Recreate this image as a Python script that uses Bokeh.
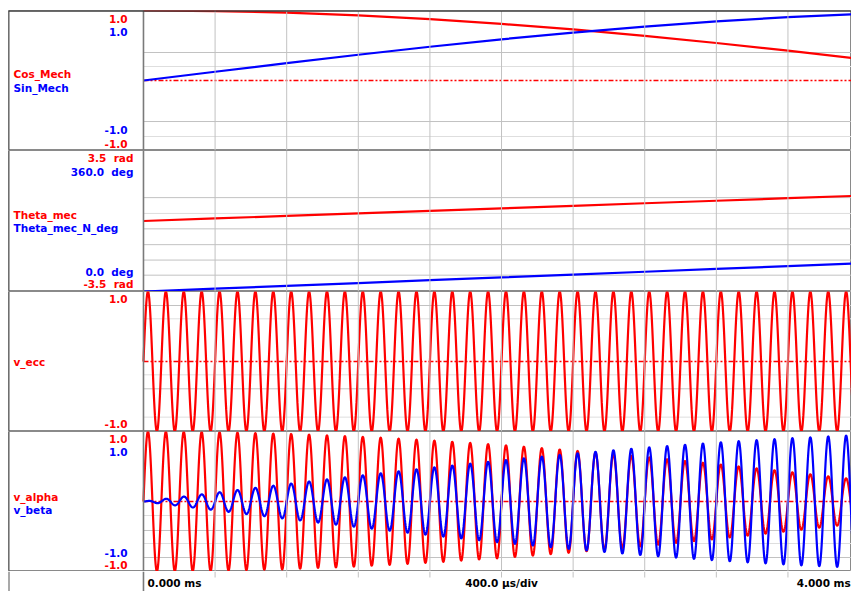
import numpy as np
from bokeh.plotting import figure
from bokeh.layouts import column
from bokeh.models import Range1d, Span, Label
from bokeh.embed import file_html
from bokeh.resources import INLINE
from bokeh.core.properties import value

# ---------------- data ----------------
# time divisions (ms), 400 us/div
t_div_ms = [0.0, 0.4, 0.8, 1.2, 1.6, 2.0, 2.4, 2.8, 3.2, 3.6, 4.0]
# mechanical position traces at every division
cos_mech = [1.0, 0.992, 0.969, 0.930, 0.876, 0.809, 0.729, 0.637, 0.536, 0.426, 0.309]
sin_mech = [0.0, 0.125, 0.249, 0.368, 0.482, 0.588, 0.685, 0.771, 0.844, 0.905, 0.951]
theta_mec_rad = [0.0, 0.126, 0.251, 0.377, 0.503, 0.628, 0.754, 0.880, 1.005, 1.131, 1.257]
theta_mec_n_deg = [0.0, 7.2, 14.4, 21.6, 28.8, 36.0, 43.2, 50.4, 57.6, 64.8, 72.0]
# excitation: 4 cycles per division, amplitude 1.0
v_ecc_period_ms = 0.1
v_ecc_amplitude = 1.0

# tick / scale labels
time_labels = ["0.000 ms", "400.0 \u00b5s/div", "4.000 ms"]

# ---------------- derived waveforms ----------------
t = np.arange(0.0, 4.0 + 1e-9, 0.002)
v_ecc = v_ecc_amplitude * np.sin(2 * np.pi * t / v_ecc_period_ms)
v_alpha = np.interp(t, t_div_ms, cos_mech) * v_ecc
v_beta = np.interp(t, t_div_ms, sin_mech) * v_ecc

# ---------------- styling ----------------
RED = "#ff0000"
BLUE = "#0000ff"
FONT = "DejaVu Sans"
FS = "10.5px"
LW = 2.2
X_LEFT, X_RIGHT = -0.754, 3.955
GRID = "#c2c2c2"
GRID_L = "#dedede"
FRAME = "#8a8a8a"
DASHDOT = "5 2 2 2 2 2"

X_NUM = -0.089   # right edge of numeric scale labels
X_UNIT = -0.056  # right edge of labels with units
X_NAME = -0.726  # left edge of trace names


def make_fig(height, yr, top=0):
    p = figure(width=851, height=height + top, x_range=Range1d(X_LEFT, X_RIGHT),
               y_range=yr, output_backend="svg", toolbar_location=None,
               min_border_left=8, min_border_right=0, min_border_top=top,
               min_border_bottom=0, x_axis_location=None, y_axis_location=None)
    p.xgrid.visible = False
    p.ygrid.visible = False
    p.outline_line_color = FRAME
    p.outline_line_width = 1
    p.background_fill_color = "white"
    p.border_fill_color = "white"
    return p


def add_vgrid(p):
    for tx in t_div_ms[1:]:
        p.add_layout(Span(location=tx, dimension="height", line_color=GRID, line_width=1))
    p.add_layout(Span(location=0.0, dimension="height", line_color="#7a7a7a", line_width=1.6))
    p.add_layout(Span(location=X_LEFT, dimension="height", line_color="#555555", line_width=2))


def add_hgrid(p, ys, colors):
    p.segment(x0=[0.0] * len(ys), x1=[4.0] * len(ys), y0=ys, y1=ys,
              line_color=colors, line_width=1)


def add_zero(p):
    p.segment(x0=[0.0], x1=[4.0], y0=[0.0], y1=[0.0], line_color=RED,
              line_width=1.6, line_dash=DASHDOT)


def add_texts(p, texts, xs, ys, colors, align):
    p.text(x=xs, y=ys, text=texts, text_color=colors, text_align=align,
           text_baseline="middle", text_font=value(FONT), text_font_style="bold",
           text_font_size=FS)


# ---- panel 1: Cos_Mech / Sin_Mech ----
p1 = make_fig(140, Range1d(-1, 1), top=10)
add_vgrid(p1)
add_hgrid(p1, [0.4, 0.2, -0.586, -0.8], [GRID, GRID_L, GRID, GRID_L])
add_zero(p1)
p1.line(t_div_ms, cos_mech, line_color=RED, line_width=LW)
p1.line(t_div_ms, sin_mech, line_color=BLUE, line_width=LW)
p1.add_layout(Span(location=1.0, dimension="width", line_color="#3a3a3a", line_width=2.5))
add_texts(p1, ["1.0", "1.0", "-1.0", "-1.0"], [X_NUM] * 4,
          [0.883, 0.693, -0.714, -0.911], [RED, BLUE, BLUE, RED], "right")
add_texts(p1, ["Cos_Mech", "Sin_Mech"], [X_NAME] * 2, [0.086, -0.11], [RED, BLUE], "left")

# ---- panel 2: Theta_mec (rad) / Theta_mec_N_deg (deg) ----
p2 = make_fig(141, Range1d(-3.5, 3.5))
p2.extra_y_ranges = {"deg": Range1d(0, 360)}
add_vgrid(p2)
add_hgrid(p2, [1.16, 0.375, -0.39, -1.175, -1.94, -2.69],
          [GRID, GRID_L, GRID, GRID, GRID, GRID])
p2.line(t_div_ms, theta_mec_rad, line_color=RED, line_width=LW)
p2.line(t_div_ms, theta_mec_n_deg, line_color=BLUE, line_width=LW, y_range_name="deg")
add_texts(p2, ["3.5 \u00a0rad", "360.0 \u00a0deg", "0.0 \u00a0deg", "-3.5 \u00a0rad"],
          [X_UNIT] * 4, [3.11, 2.44, -2.52, -3.14], [RED, BLUE, BLUE, RED], "right")
add_texts(p2, ["Theta_mec", "Theta_mec_N_deg"], [X_NAME] * 2, [0.31, -0.36], [RED, BLUE], "left")

# ---- panel 3: v_ecc ----
p3 = make_fig(140, Range1d(-1, 1))
add_vgrid(p3)
add_hgrid(p3, [0.8, 0.61, -0.19, -0.39, -0.795], [GRID, GRID_L, GRID_L, GRID, GRID_L])
add_zero(p3)
p3.line(t, v_ecc, line_color=RED, line_width=LW)
add_texts(p3, ["1.0", "-1.0"], [X_NUM] * 2, [0.896, -0.89], [RED, RED], "right")
add_texts(p3, ["v_ecc"], [X_NAME], [-0.01], [RED], "left")

# ---- panel 4: v_alpha / v_beta ----
p4 = make_fig(140, Range1d(-1, 1))
add_vgrid(p4)
add_hgrid(p4, [-0.2, -0.414, -0.6, -0.8], [GRID_L, GRID, GRID_L, GRID])
add_zero(p4)
p4.line(t, v_alpha, line_color=RED, line_width=LW)
p4.line(t, v_beta, line_color=BLUE, line_width=LW)
add_texts(p4, ["1.0", "1.0", "-1.0", "-1.0"], [X_NUM] * 4,
          [0.886, 0.704, -0.739, -0.914], [RED, BLUE, BLUE, RED], "right")
add_texts(p4, ["v_alpha", "v_beta"], [X_NAME] * 2, [0.071, -0.119], [RED, BLUE], "left")

# ---- bottom time strip ----
p5 = make_fig(20, Range1d(0, 1))
p5.outline_line_color = None
p5.add_layout(Span(location=0.0, dimension="height", line_color="#7a7a7a", line_width=1.6))
p5.add_layout(Span(location=X_LEFT, dimension="height", line_color="#555555", line_width=2))
p5.segment(x0=t_div_ms[1:], x1=t_div_ms[1:], y0=[1.0] * 10, y1=[0.7] * 10,
           line_color=GRID, line_width=1)
add_texts(p5, [time_labels[0]], [0.022], [0.45], ["black"], "left")
add_texts(p5, [time_labels[1]], [2.0], [0.45], ["black"], "center")
p5.add_layout(Label(x=X_RIGHT - 0.004, y=0.45, text=time_labels[2], text_align="right",
                    text_baseline="middle", text_font=FONT, text_font_style="bold",
                    text_font_size=FS, text_color="black"))

layout = column(p1, p2, p3, p4, p5, spacing=0)
open("out.html", "w").write(file_html(layout, INLINE))
